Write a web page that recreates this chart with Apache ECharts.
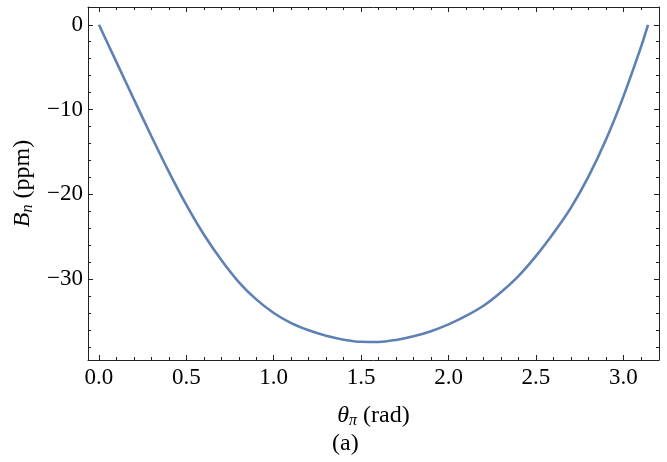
<!DOCTYPE html>
<html>
<head>
<meta charset="utf-8">
<script src="https://cdn.jsdelivr.net/npm/echarts@6/dist/echarts.min.js"></script>
<style>html,body{margin:0;padding:0;background:#fff}#c{width:667px;height:462px}</style>
</head>
<body>
<div id="c"></div>
<script>
// Data
var theta = [0, 0.1, 0.2, 0.3, 0.4, 0.5, 0.6, 0.7, 0.8, 0.9, 1.0, 1.1, 1.2, 1.3, 1.4, 1.5, 1.6, 1.7, 1.8, 1.9, 2.0, 2.1, 2.2, 2.3, 2.4, 2.5, 2.6, 2.7, 2.8, 2.9, 3.0, 3.1, 3.1416];
var bn = [0, -4.4, -8.8, -13.15, -17.35, -21.25, -24.75, -27.75, -30.35, -32.4, -34.0, -35.2, -36.05, -36.7, -37.15, -37.4, -37.42, -37.18, -36.75, -36.15, -35.35, -34.35, -33.15, -31.55, -29.65, -27.3, -24.6, -21.6, -17.95, -13.6, -8.5, -2.7, 0];
var xMajorTicks = [0, 0.5, 1.0, 1.5, 2.0, 2.5, 3.0];
var xMinorTicks = [0.1,0.2,0.3,0.4,0.6,0.7,0.8,0.9,1.1,1.2,1.3,1.4,1.6,1.7,1.8,1.9,2.1,2.2,2.3,2.4,2.6,2.7,2.8,2.9,3.1];
var yMajorTicks = [0, -10, -20, -30];
var yMinorTicks = [-2,-4,-6,-8,-12,-14,-16,-18,-22,-24,-26,-28,-32,-34,-36,-38];

var XMIN = -0.0628, XMAX = 3.2044, YMIN = -39.55, YMAX = 2.1;
var FONT = 'Liberation Serif';
var frameColor = '#222';

function xAxisDef(pos, ticks, len, showLabel, showLine) {
  return {
    type: 'value', position: pos, min: XMIN, max: XMAX, gridIndex: 0,
    splitLine: {show: false},
    axisLine: {show: showLine, onZero: false, lineStyle: {color: frameColor, width: 1}},
    axisTick: {show: true, inside: true, length: len, customValues: ticks, lineStyle: {color: frameColor, width: 1}},
    axisLabel: {show: showLabel, customValues: ticks, margin: 6, color: '#000', fontFamily: FONT, fontSize: 23,
      formatter: function (v) { return v.toFixed(1); }}
  };
}
function yAxisDef(pos, ticks, len, showLabel, showLine) {
  return {
    type: 'value', position: pos, min: YMIN, max: YMAX, gridIndex: 0,
    splitLine: {show: false},
    axisLine: {show: showLine, onZero: false, lineStyle: {color: frameColor, width: 1}},
    axisTick: {show: true, inside: true, length: len, customValues: ticks, lineStyle: {color: frameColor, width: 1}},
    axisLabel: {show: showLabel, customValues: ticks, margin: 5, color: '#000', fontFamily: FONT, fontSize: 23,
      formatter: function (v) { return v < 0 ? '\u2212' + Math.abs(v) : String(v); }}
  };
}
var nameRich = {
  i: {fontFamily: FONT, fontStyle: 'italic', fontSize: 24, color: '#000', lineHeight: 26, verticalAlign: 'middle'},
  s: {fontFamily: FONT, fontStyle: 'italic', fontSize: 16, color: '#000', lineHeight: 26, verticalAlign: 'bottom'},
  r: {fontFamily: FONT, fontSize: 24, color: '#000', lineHeight: 26, verticalAlign: 'middle'}
};

var xAxes = [
  xAxisDef('bottom', xMajorTicks, 5, true, true),
  xAxisDef('bottom', xMinorTicks, 3, false, false),
  xAxisDef('top', xMajorTicks, 5, false, true),
  xAxisDef('top', xMinorTicks, 3, false, false)
];
xAxes[0].name = '{i|\u03b8}{s|\u03c0}{r| (rad)}';
xAxes[0].nameLocation = 'middle';
xAxes[0].nameGap = 43;
xAxes[0].nameTextStyle = {rich: nameRich};

var yAxes = [
  yAxisDef('left', yMajorTicks, 5, true, true),
  yAxisDef('left', yMinorTicks, 3, false, false),
  yAxisDef('right', yMajorTicks, 5, false, true),
  yAxisDef('right', yMinorTicks, 3, false, false)
];
yAxes[0].name = '{i|B}{s|n}{r| (ppm)}';
yAxes[0].nameLocation = 'middle';
yAxes[0].nameGap = 52;
yAxes[0].nameRotate = 90;
yAxes[0].nameTextStyle = {rich: nameRich};

var chart = echarts.init(document.getElementById('c'), null, {renderer: 'canvas'});
chart.setOption({
  animation: false,
  backgroundColor: '#fff',
  grid: {left: 88, right: 8, top: 7, bottom: 102, containLabel: false, outerBoundsMode: 'none'},
  xAxis: xAxes,
  yAxis: yAxes,
  graphic: [{
    type: 'text', left: 332, top: 432,
    style: {text: '(a)', font: '24px "Liberation Serif"', fill: '#000'}
  }],
  series: [{
    type: 'line', xAxisIndex: 0, yAxisIndex: 0,
    data: theta.map(function (t, i) { return [t, bn[i]]; }),
    smooth: 0.3, showSymbol: false,
    lineStyle: {color: '#5E81B5', width: 2.6},
    clip: false
  }]
});
</script>
</body>
</html>
